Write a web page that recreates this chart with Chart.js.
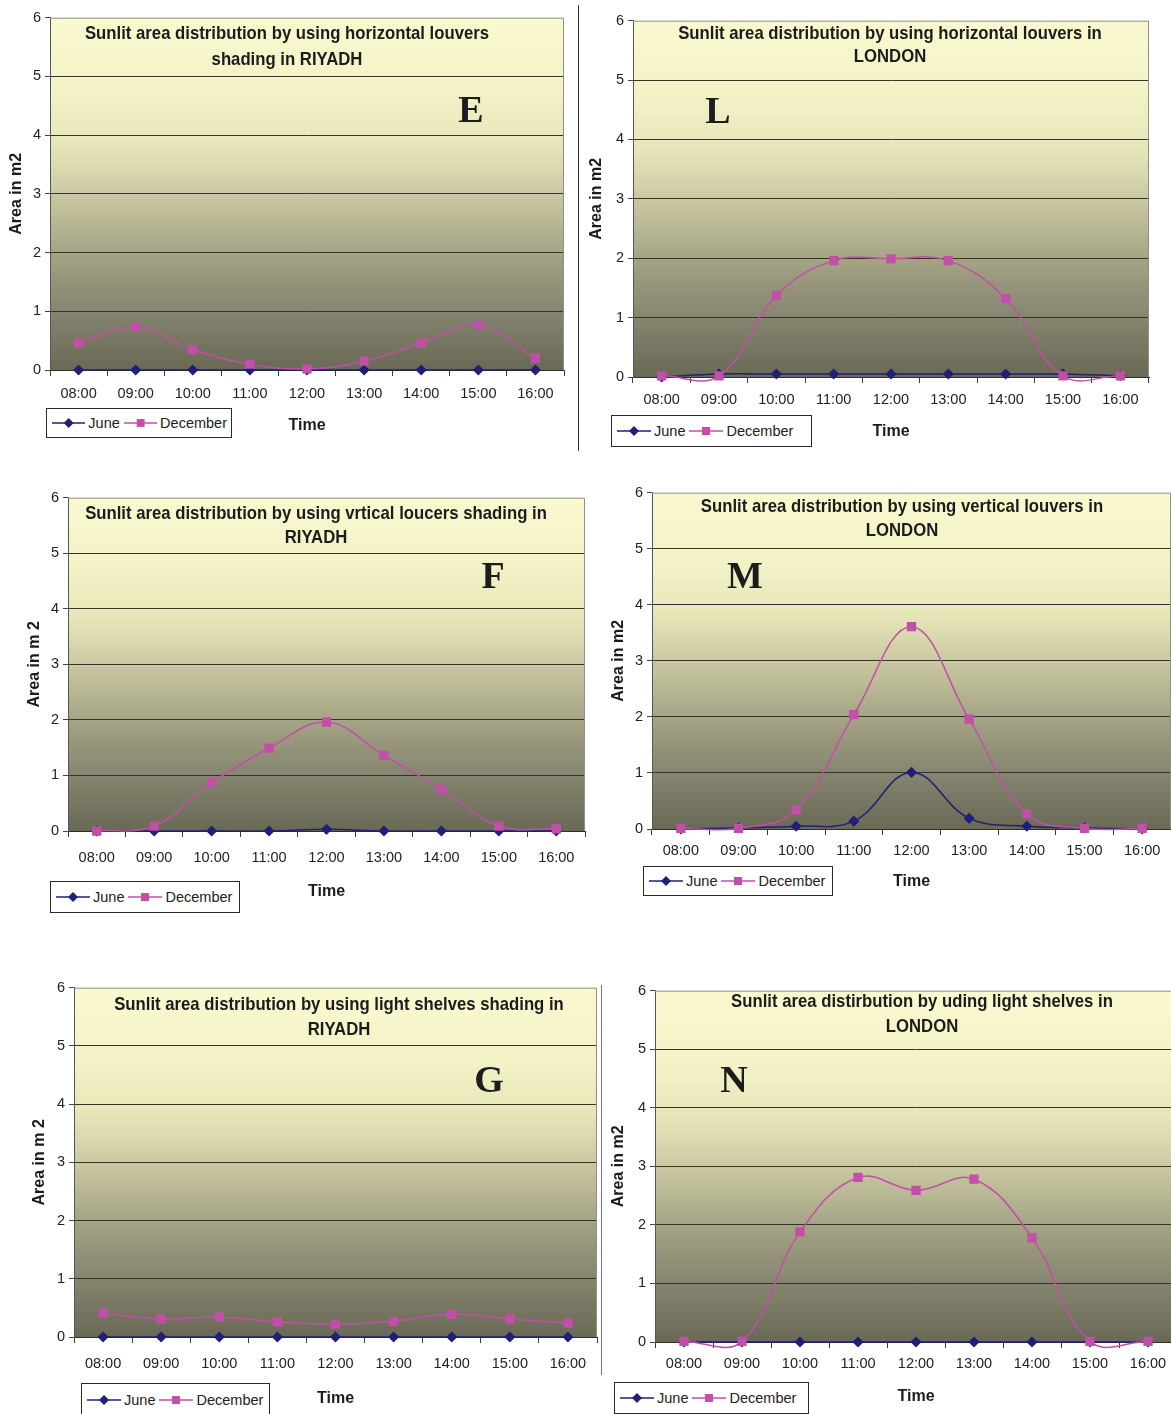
<!DOCTYPE html>
<html>
<head>
<meta charset="utf-8">
<script src="https://cdn.jsdelivr.net/npm/chart.js@4.4.1/dist/chart.umd.min.js"></script>
<style>
  html, body { margin: 0; padding: 0; background: #fff; overflow: hidden; }
  #page { position: relative; width: 1171px; height: 1414px; overflow: hidden; }
  #page canvas { position: absolute; }
  .legend { position: absolute; box-sizing: border-box; border: 1px solid #2a2a2a; background: #fff;
            display: flex; align-items: center; padding-left: 5px; color: #222;
            font: 14.5px "Liberation Sans", Arial, sans-serif; }
  .legend svg { display: block; margin-right: 3px; }
  .legend span { margin-right: 4px; white-space: nowrap; }
  .rule { position: absolute; width: 1px; background: #333; }
</style>
</head>
<body>
<div id="page">
  <div class="rule" style="left:578px; top:5px; height:446px;"></div>
  <div class="rule" style="left:601px; top:985px; height:390px; background:#777;"></div>
</div>
<script>
const hours = ['08:00', '09:00', '10:00', '11:00', '12:00', '13:00', '14:00', '15:00', '16:00'];
const seriesNames = ['June', 'December'];

// E - horizontal louvers, Riyadh
const juneRiyadhHoriz = [0, 0, 0, 0, 0, 0, 0, 0, 0];
const decRiyadhHoriz  = [0.46, 0.73, 0.35, 0.10, 0.02, 0.15, 0.46, 0.76, 0.20];
// L - horizontal louvers, London
const juneLondonHoriz = [0, 0.05, 0.05, 0.05, 0.05, 0.05, 0.05, 0.05, 0.02];
const decLondonHoriz  = [0.02, 0.02, 1.37, 1.96, 1.99, 1.96, 1.32, 0.02, 0.02];
// F - vertical louvers, Riyadh
const juneRiyadhVert = [0, 0, 0, 0, 0.03, 0, 0, 0, 0];
const decRiyadhVert  = [0, 0.09, 0.87, 1.49, 1.96, 1.36, 0.75, 0.09, 0.04];
// M - vertical louvers, London
const juneLondonVert = [0, 0.02, 0.05, 0.14, 1.01, 0.19, 0.05, 0.02, 0];
const decLondonVert  = [0.01, 0.01, 0.34, 2.04, 3.61, 1.96, 0.27, 0.01, 0.01];
// G - light shelves, Riyadh
const juneRiyadhShelf = [0, 0, 0, 0, 0, 0, 0, 0, 0];
const decRiyadhShelf  = [0.41, 0.31, 0.34, 0.26, 0.22, 0.27, 0.39, 0.31, 0.24];
// N - light shelves, London
const juneLondonShelf = [0, 0, 0, 0, 0, 0, 0, 0, 0];
const decLondonShelf  = [0.01, 0.01, 1.88, 2.81, 2.59, 2.78, 1.78, 0.01, 0.01];

const SANS = '"Liberation Sans", Arial, sans-serif';
const juneColor = '#1f2076';
const decColor = '#c24fa8';
const bgStops = [[0, '#faf8cf'], [0.2, '#f4f3c7'], [0.36, '#e7e6b9'], [0.5, '#cbc9a3'],
                 [0.67, '#a4a384'], [0.83, '#868570'], [1, '#6a6955']];

// layout of each panel in page pixels
const panels = [
  { letter: 'E', june: juneRiyadhHoriz, dec: decRiyadhHoriz, yTitle: 'Area in m2',
    title: ['Sunlit area distribution by using horizontal louvers', 'shading in RIYADH'],
    plot: [50, 15, 567, 370], yTitleX: 17, titleX: 287, titleY: [34, 60], letterXY: [471, 112],
    tickY: 394, timeY: 425, legend: [46, 408, 186, 30] },
  { letter: 'L', june: juneLondonHoriz, dec: decLondonHoriz, yTitle: 'Area in m2',
    title: ['Sunlit area distribution by using horizontal louvers in', 'LONDON'],
    plot: [633, 18, 1152, 377], yTitleX: 597, titleX: 890, titleY: [34, 57], letterXY: [718, 113],
    tickY: 400, timeY: 431, legend: [611, 415, 201, 32] },
  { letter: 'F', june: juneRiyadhVert, dec: decRiyadhVert, yTitle: 'Area in m 2',
    title: ['Sunlit area distribution by using vrtical loucers shading in', 'RIYADH'],
    plot: [68, 495, 588, 831], yTitleX: 35, titleX: 316, titleY: [514, 538], letterXY: [493, 578],
    tickY: 858, timeY: 891, legend: [50, 881, 190, 32] },
  { letter: 'M', june: juneLondonVert, dec: decLondonVert, yTitle: 'Area in m2',
    title: ['Sunlit area distribution by using vertical louvers in', 'LONDON'],
    plot: [652, 490, 1174, 829], yTitleX: 619, titleX: 902, titleY: [507, 531], letterXY: [745, 578],
    tickY: 851, timeY: 881, legend: [643, 866, 190, 30] },
  { letter: 'G', june: juneRiyadhShelf, dec: decRiyadhShelf, yTitle: 'Area in m 2',
    title: ['Sunlit area distribution by using light shelves shading in', 'RIYADH'],
    plot: [74, 985, 600, 1337], yTitleX: 40, titleX: 339, titleY: [1005, 1030], letterXY: [489, 1082],
    tickY: 1364, timeY: 1398, legend: [81, 1383, 189, 33] },
  { letter: 'N', june: juneLondonShelf, dec: decLondonShelf, yTitle: 'Area in m2',
    title: ['Sunlit area distirbution by uding light shelves in', 'LONDON'],
    plot: [655, 988, 1180, 1342], yTitleX: 619, titleX: 922, titleY: [1002, 1027], letterXY: [734, 1082],
    tickY: 1364, timeY: 1396, legend: [614, 1382, 195, 32] },
];

// gradient plot area, grey border, title and panel letter
const panelDecor = {
  id: 'panelDecor',
  beforeDraw(chart) {
    const { ctx, chartArea: a } = chart;
    const g = ctx.createLinearGradient(0, a.top, 0, a.bottom);
    bgStops.forEach(([o, c]) => g.addColorStop(o, c));
    ctx.save();
    ctx.fillStyle = g;
    ctx.fillRect(a.left, a.top, a.right - a.left, a.bottom - a.top);
    ctx.restore();
  },
  beforeDatasetsDraw(chart, args, opts) {
    const { ctx, chartArea: a } = chart;
    ctx.save();
    ctx.strokeStyle = '#8e8e8e';
    ctx.lineWidth = 1;
    ctx.beginPath();
    ctx.moveTo(a.left, a.top + 0.5);
    ctx.lineTo(a.right - 0.5, a.top + 0.5);
    ctx.lineTo(a.right - 0.5, a.bottom);
    ctx.stroke();
    ctx.fillStyle = '#1c1c1c';
    ctx.textAlign = 'center';
    ctx.textBaseline = 'middle';
    // the original title face is a condensed bold sans, squeeze it a little
    ctx.font = 'bold 19px ' + SANS;
    opts.lines.forEach((t, i) => {
      const w = ctx.measureText(t).width;
      ctx.fillText(t, opts.x, opts.ys[i], w * 0.88);
    });
    ctx.font = 'bold 38px "Liberation Serif", "Times New Roman", serif';
    ctx.fillText(opts.letter, opts.lx, opts.ly);
    ctx.restore();
  }
};

function legendSymbol(color, style) {
  const mark = style === 'rectRot'
    ? `<polygon points="17,2 22,7 17,12 12,7" fill="${color}"/>`
    : `<rect x="13" y="3" width="8" height="8" fill="${color}"/>`;
  return `<svg width="34" height="14" viewBox="0 0 34 14"><line x1="0" y1="7" x2="34" y2="7" stroke="${color}" stroke-width="1.5"/>${mark}</svg>`;
}

function buildLegend(chart, box) {
  const el = document.createElement('div');
  el.className = 'legend';
  Object.assign(el.style, { left: box[0] + 'px', top: box[1] + 'px', width: box[2] + 'px', height: box[3] + 'px' });
  el.innerHTML = chart.data.datasets
    .map(ds => legendSymbol(ds.borderColor, ds.pointStyle) + `<span>${ds.label}</span>`)
    .join('');
  document.getElementById('page').appendChild(el);
}

const tickFont = { family: SANS, size: 14.5 };
const axisTitleFont = { family: SANS, size: 16, weight: 'bold' };

function makePanel(p) {
  const [L, T, R, B] = p.plot;
  const lh = axisTitleFont.size * 1.2;
  const left = Math.round(p.yTitleX - 2 - lh / 2);
  const top = T - 10;
  const bottom = Math.round(p.timeY + 2 + lh / 2);
  const width = R + 4 - left;
  const height = bottom - top;
  const yW = L - left;
  const xH = bottom - B;

  const canvas = document.createElement('canvas');
  canvas.width = width;
  canvas.height = height;
  Object.assign(canvas.style, { left: left + 'px', top: top + 'px', width: width + 'px', height: height + 'px' });
  document.getElementById('page').appendChild(canvas);

  const chart = new Chart(canvas, {
    type: 'line',
    data: {
      labels: hours,
      datasets: [
        { label: seriesNames[0], data: p.june, borderColor: juneColor, backgroundColor: juneColor,
          pointStyle: 'rectRot', pointRadius: 4.5, borderWidth: 1.5, order: 2 },
        { label: seriesNames[1], data: p.dec, borderColor: decColor, backgroundColor: decColor,
          pointStyle: 'rect', pointRadius: 5.5, borderWidth: 1.5, order: 1 },
      ]
    },
    options: {
      responsive: false,
      animation: false,
      events: [],
      layout: { padding: { top: 10, right: 4, left: 0, bottom: 0 } },
      elements: {
        line: { tension: 0.4, capBezierPoints: false, fill: false },
        point: { borderWidth: 0 }
      },
      datasets: { line: { clip: false } },
      plugins: {
        legend: { display: false },
        tooltip: { enabled: false },
        panelDecor: {
          lines: p.title, x: p.titleX - left, ys: p.titleY.map(y => y - top),
          letter: p.letter, lx: p.letterXY[0] - left, ly: p.letterXY[1] - top
        }
      },
      scales: {
        x: {
          offset: true,
          afterFit: s => { s.height = xH; },
          grid: { offset: true, drawOnChartArea: false, tickLength: 6, color: '#3a3a3a' },
          border: { color: '#2f2f2f', width: 1 },
          ticks: { font: tickFont, color: '#222', maxRotation: 0,
                   padding: (p.tickY - B) - 6 - tickFont.size * 0.6 },
          title: { display: true, text: 'Time', font: axisTitleFont, color: '#1c1c1c',
                   padding: { top: 0, bottom: 2 } }
        },
        y: {
          min: 0, max: 6,
          afterFit: s => { s.width = yW; },
          ticks: { stepSize: 1, font: tickFont, color: '#222', padding: 4 },
          grid: {
            color: c => (c.tick && c.tick.value === 6) ? 'rgba(0,0,0,0)' : '#34342c',
            tickColor: '#444', tickLength: 5
          },
          border: { color: '#555', width: 1 },
          title: { display: true, text: p.yTitle, font: axisTitleFont, color: '#1c1c1c',
                   padding: { top: 2, bottom: 0 } }
        }
      }
    },
    plugins: [panelDecor]
  });
  buildLegend(chart, p.legend);
}

panels.forEach(makePanel);
</script>
</body>
</html>
